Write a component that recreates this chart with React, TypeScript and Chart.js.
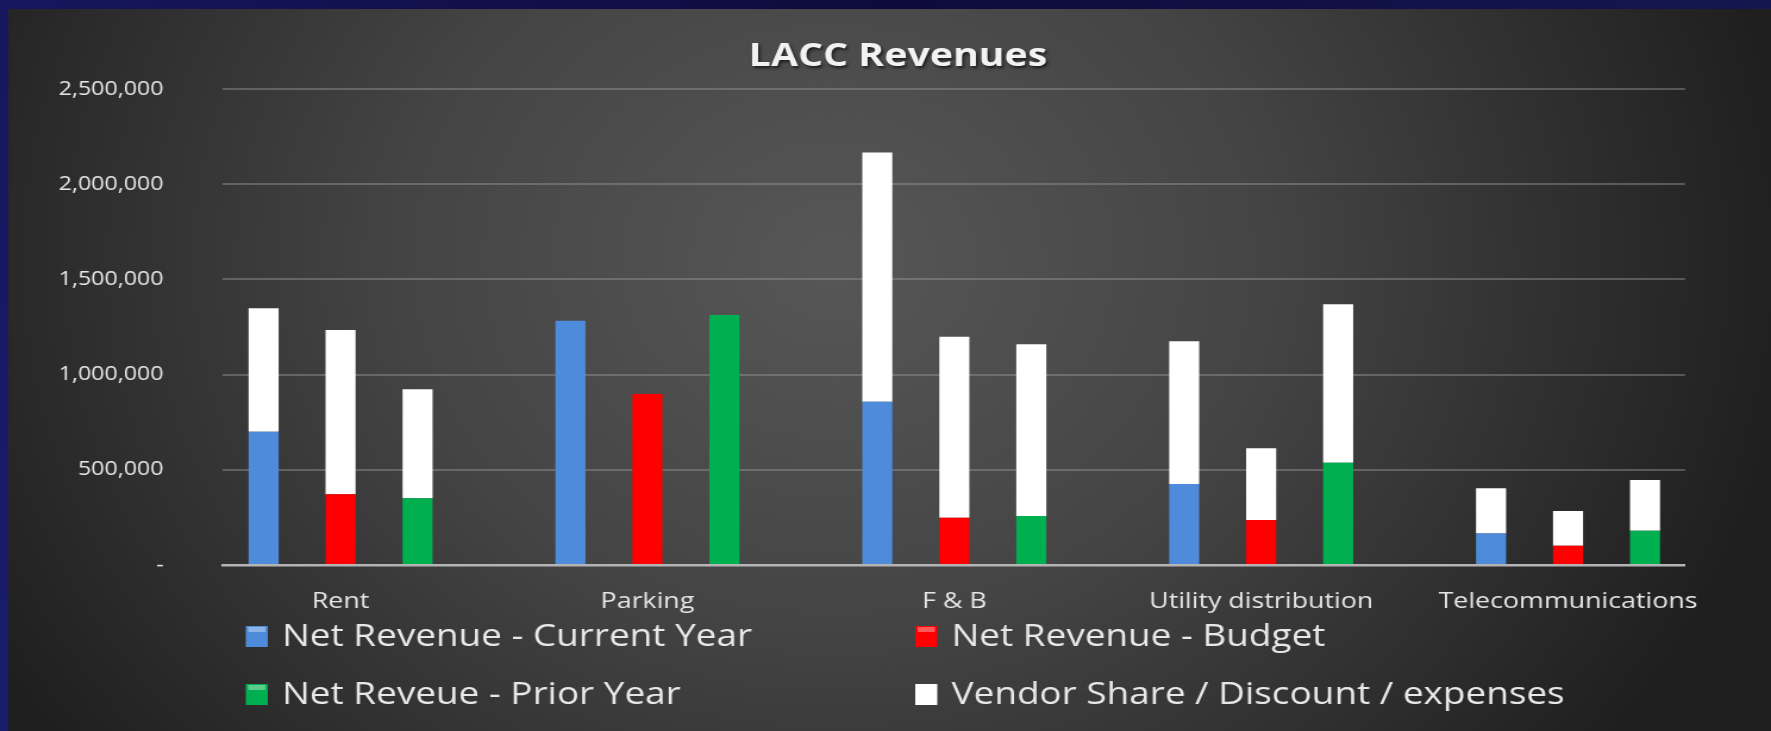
import React, { useEffect, useRef } from 'react';
import { Chart, registerables } from 'chart.js';

Chart.register(...registerables);

// ---- data ----
const categories = ['Rent', 'Parking', 'F & B', 'Utility distribution', 'Telecommunications'];
const netCurrentYear = [700000, 1283000, 858000, 425000, 166000];
const netBudget = [371000, 898000, 248000, 236000, 101000];
const netPriorYear = [350000, 1313000, 257000, 537000, 180000];
const vendorCurrentYear = [648000, 0, 1308000, 750000, 237000];
const vendorBudget = [863000, 0, 951000, 377000, 183000];
const vendorPriorYear = [573000, 0, 902000, 832000, 266000];
const yTickValues = [0, 500000, 1000000, 1500000, 2000000, 2500000];
const chartTitle = 'LACC Revenues';
const seriesLabels = [
  'Net Revenue - Current Year',
  'Net Revenue - Budget',
  'Net Reveue - Prior Year',
  'Vendor Share / Discount / expenses',
];

// ---- styling ----
const OUT_W = 1771;
const OUT_H = 731;
const STRETCH = 1.19;
const W = Math.round(OUT_W / STRETCH);
const H = OUT_H;
const BLUE = '#4f8bdb';
const RED = '#fe0000';
const GREEN = '#00b050';
const WHITE = '#ffffff';
const FONT = '"Open Sans", "Noto Sans", sans-serif';

const toPoints = (arr: number[]) => arr.map((v, i) => ({ x: i, y: v }));

const backgroundPlugin = {
  id: 'bgPanel',
  beforeDraw(chart: any) {
    const { ctx, width, height } = chart;
    ctx.save();
    const navy = ctx.createLinearGradient(width, 0, 0, height);
    navy.addColorStop(0, '#14174f');
    navy.addColorStop(0.4, '#0e0b3c');
    navy.addColorStop(1, '#1a1c6e');
    ctx.fillStyle = navy;
    ctx.fillRect(0, 0, width, height);
    const px = 8 / STRETCH;
    const py = 9;
    const g = ctx.createRadialGradient(700, 260, 0, 700, 260, 820);
    g.addColorStop(0, '#575757');
    g.addColorStop(0.45, '#444444');
    g.addColorStop(0.8, '#2c2c2c');
    g.addColorStop(1, '#1e1e1e');
    ctx.fillStyle = g;
    ctx.fillRect(px, py, width - px, height - py);
    ctx.restore();
  },
};

const titleLegendPlugin = {
  id: 'titleLegend',
  afterDraw(chart: any) {
    const { ctx } = chart;
    ctx.save();
    // title
    ctx.font = `bold 33px ${FONT}`;
    ctx.textAlign = 'center';
    ctx.textBaseline = 'middle';
    ctx.shadowColor = 'rgba(0,0,0,0.65)';
    ctx.shadowBlur = 3;
    ctx.shadowOffsetX = 1.5;
    ctx.shadowOffsetY = 1.5;
    ctx.fillStyle = '#f2f2f2';
    ctx.fillText(chartTitle, 754.5, 57);
    ctx.shadowColor = 'transparent';

    // legend (2 x 2 grid)
    const items = chart.data.datasets.filter((d: any) => d.showInLegend);
    const colX = [206.5, 769];
    const rowY = [636, 694];
    ctx.font = `31px ${FONT}`;
    ctx.textAlign = 'left';
    items.forEach((d: any, i: number) => {
      const col = i % 2;
      const row = Math.floor(i / 2);
      const bx = colX[col];
      const by = rowY[row];
      ctx.fillStyle = d.backgroundColor;
      ctx.fillRect(bx, by - 10, 18.5, 21);
      ctx.fillStyle = 'rgba(255,255,255,0.35)';
      ctx.fillRect(bx + 2, by - 9, 14.5, 5);
      ctx.fillStyle = '#e8e8e8';
      ctx.fillText(d.label, bx + 30.5, by + 1);
    });
    ctx.restore();
  },
};

export default function App() {
  const canvasRef = useRef<HTMLCanvasElement | null>(null);

  useEffect(() => {
    if (!canvasRef.current) return;
    const mk = (label: string, data: number[], color: string, stack: string, showInLegend: boolean) => ({
      label,
      data: toPoints(data),
      backgroundColor: color,
      stack,
      showInLegend,
      borderWidth: 0,
      inflateAmount: 0,
      categoryPercentage: 0.7527,
      barPercentage: 0.39,
    });
    const datasets: any[] = [
      mk(seriesLabels[0], netCurrentYear, BLUE, 'current', true),
      mk(seriesLabels[1], netBudget, RED, 'budget', true),
      mk(seriesLabels[2], netPriorYear, GREEN, 'prior', true),
      mk(seriesLabels[3], vendorCurrentYear, WHITE, 'current', true),
      mk(seriesLabels[3], vendorBudget, WHITE, 'budget', false),
      mk(seriesLabels[3], vendorPriorYear, WHITE, 'prior', false),
    ];

    const chart = new Chart(canvasRef.current, {
      type: 'bar',
      data: { datasets },
      plugins: [backgroundPlugin, titleLegendPlugin],
      options: {
        responsive: false,
        animation: false,
        devicePixelRatio: 1,
        layout: { padding: { left: 0, right: W - 1415.7, top: 89, bottom: 0 } },
        plugins: {
          legend: { display: false },
          title: { display: false },
          tooltip: { enabled: false },
        },
        scales: {
          x: {
            type: 'linear',
            stacked: true,
            offset: false,
            min: -0.383,
            max: 4.381,
            grid: { display: false, drawTicks: false, offset: false },
            border: { display: true, color: '#b4b4b4', width: 2.5 },
            ticks: {
              stepSize: 1,
              includeBounds: false,
              autoSkip: false,
              maxRotation: 0,
              padding: 23,
              color: '#e6e6e6',
              font: { family: FONT, size: 22.5 },
              callback: (v: any) => (Number.isInteger(v) ? categories[v] ?? '' : ''),
            },
            afterFit: (s: any) => {
              s.height = H - 565;
            },
          },
          y: {
            stacked: true,
            min: 0,
            max: 2500000,
            grid: {
              drawTicks: false,
              lineWidth: 2,
              color: (c: any) => (c.tick && c.tick.value === 0 ? 'rgba(0,0,0,0)' : 'rgba(150,150,150,0.45)'),
            },
            border: { display: false },
            afterBuildTicks: (s: any) => {
              s.ticks = yTickValues.map((v) => ({ value: v }));
            },
            ticks: {
              padding: 50,
              color: '#e6e6e6',
              font: { family: FONT, size: 19.5 },
              callback: (v: any) => (v === 0 ? '-' : Number(v).toLocaleString('en-US')),
            },
            afterFit: (s: any) => {
              s.width = 187.4;
            },
          },
        },
      } as any,
    });
    return () => chart.destroy();
  }, []);

  return (
    <div style={{ position: 'fixed', left: 0, top: 0, width: OUT_W, height: OUT_H, overflow: 'hidden' }}>
      <canvas
        ref={canvasRef}
        width={W}
        height={H}
        style={{ width: `${OUT_W}px`, height: `${OUT_H}px`, display: 'block' }}
      />
    </div>
  );
}
